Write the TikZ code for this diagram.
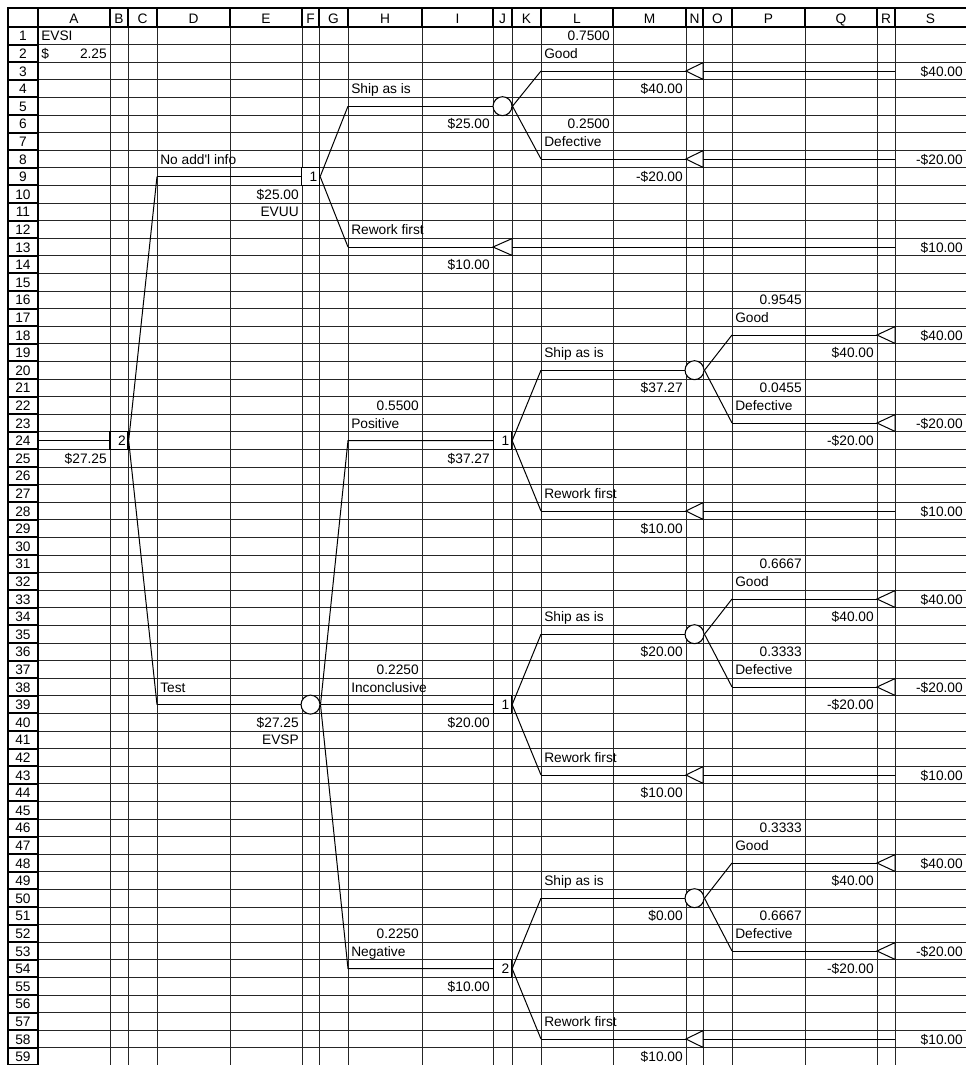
\documentclass[tikz,border=0pt]{standalone}
\usepackage{fontspec}
\setmainfont{Liberation Sans}
\usetikzlibrary{positioning}
\newcommand{\cellfont}{\fontsize{10.3}{12}\selectfont}
\pgfmathdeclarefunction{rtop}{1}{\pgfmathparse{27+(#1-1)*17.6}}
\pgfmathdeclarefunction{rmid}{1}{\pgfmathparse{27+(#1-0.5)*17.6}}
\tikzset{
  gridln/.style={line width=0.6pt, black!85},
  hdrln/.style={line width=1.5pt},
  branch/.style={line width=0.75pt},
  decbox/.style={draw, line width=1pt, fill=white, minimum height=13.2pt, text width=10pt, align=right, inner xsep=1.75pt, inner ysep=0pt, font=\cellfont},
  chance/.style={draw, circle, line width=0.8pt, fill=white, minimum size=14.2pt, inner sep=0pt},
  endtri/.style={draw, line width=0.75pt, fill=white},
  celll/.style={anchor=base west, inner sep=0pt, font=\cellfont},
  cellr/.style={anchor=base east, inner sep=0pt, font=\cellfont},
  hdrtxt/.style={anchor=base, inner sep=0pt, font=\cellfont}
}
% terminal triangle: name, tip x, row, width
\newcommand{\leaf}[4]{%
  \coordinate (#1) at (#2,{rmid(#3)});
  \coordinate (#1-base) at ({#2+#4},{rmid(#3)});
  \draw[endtri] (#1) -- ++(#4,-8.4) -- ++(0,16.8) -- cycle;}

\begin{document}
\begin{tikzpicture}[x=0.75pt, y=-0.75pt]
\useasboundingbox (0,0) rectangle (966,1065);
\clip (0,0) rectangle (966,1065);
% sheet grid
\foreach \gx in {110,128,157,230,302,319,348,422,493,512,541,613,686,703,732,805,877,895}
  \draw[gridln] (\gx,27) -- (\gx,1070);
\foreach \rw in {2,...,60}
  \draw[gridln] (38,{rtop(\rw)}) -- (966,{rtop(\rw)});
% headers
\draw[hdrln] (8,1070) -- (8,8) -- (966,8);
\draw[hdrln] (38,8) -- (38,1070);
\draw[hdrln] (8,27) -- (966,27);
\foreach \gx in {110,128,157,230,302,319,348,422,493,512,541,613,686,703,732,805,877,895}
  \draw[hdrln] (\gx,8) -- (\gx,27);
\foreach \rw in {2,...,60}
  \draw[hdrln] (8,{rtop(\rw)}) -- (38,{rtop(\rw)});
\foreach \lt/\cx in {A/74,B/119,C/142.5,D/193.5,E/266,F/310.5,G/333.5,H/385,I/457.5,J/502.5,K/526.5,L/577,M/649.5,N/694.5,O/717.5,P/768.5,Q/841,R/886,S/930.5}
  \node[hdrtxt] (col\lt) at (\cx,23) {\lt};
\foreach \rw in {1,...,59}
  \node[hdrtxt] (row\rw) at (23,{rtop(\rw+1)-3.8}) {\rw};

% cell texts
\foreach \cx/\rw/\txt [count=\k] in {41/1/EVSI, 41/2/\$, 160/8/No add\textquotesingle l info,
  351/4/Ship as is, 544/2/Good, 544/7/Defective, 351/12/Rework first, 160/38/Test,
  351/23/Positive, 544/19/Ship as is, 735/17/Good, 735/22/Defective, 544/27/Rework first,
  351/38/Inconclusive, 544/34/Ship as is, 735/32/Good, 735/37/Defective, 544/42/Rework first,
  351/53/Negative, 544/49/Ship as is, 735/47/Good, 735/52/Defective, 544/57/Rework first}
  \node[celll] (lt\k) at (\cx,{rtop(\rw+1)-3.8}) {\txt};
\foreach \cx/\rw/\txt [count=\k] in {107/2/2.25, 107/25/\$27.25, 299/10/\$25.00, 299/11/EVUU,
  299/40/\$27.25, 299/41/EVSP, 490/6/\$25.00, 490/14/\$10.00, 610/1/0.7500, 610/6/0.2500,
  683/4/\$40.00, 683/9/-\$20.00, 963/3/\$40.00, 963/8/-\$20.00, 963/13/\$10.00,
  419/22/0.5500, 490/25/\$37.27, 683/21/\$37.27, 802/16/0.9545, 802/21/0.0455,
  874/19/\$40.00, 874/24/-\$20.00, 963/18/\$40.00, 963/23/-\$20.00, 963/28/\$10.00, 683/29/\$10.00,
  419/37/0.2250, 490/40/\$20.00, 683/36/\$20.00, 802/31/0.6667, 802/36/0.3333,
  874/34/\$40.00, 874/39/-\$20.00, 963/33/\$40.00, 963/38/-\$20.00, 963/43/\$10.00, 683/44/\$10.00,
  419/52/0.2250, 490/55/\$10.00, 683/51/\$0.00, 802/46/0.3333, 802/51/0.6667,
  874/49/\$40.00, 874/54/-\$20.00, 963/48/\$40.00, 963/53/-\$20.00, 963/58/\$10.00, 683/59/\$10.00}
  \node[cellr] (rt\k) at (\cx,{rtop(\rw+1)-3.8}) {\txt};

% root decision
\coordinate (rootIn) at (38,{rmid(24)});
\node[decbox] (dRoot) at (119,{rmid(24)}) {2};
\coordinate (noInfo) at (157,{rmid(9)});
\coordinate (testIn) at (157,{rmid(39)});
\draw[branch] (rootIn) -- (dRoot.west);
\draw[branch] (dRoot.east) -- (noInfo);
\draw[branch] (dRoot.east) -- (testIn);

% no additional information
\node[decbox] (dNo) at (310.5,{rmid(9)}) {1};
\draw[branch] (noInfo) -- (dNo.west);
\coordinate (shipA) at (348,{rmid(5)});
\coordinate (rewA) at (348,{rmid(13)});
\draw[branch] (dNo.east) -- (shipA);
\draw[branch] (dNo.east) -- (rewA);
\node[chance] (cA) at (502.5,{rmid(5)}) {};
\draw[branch] (shipA) -- (cA.west);
\coordinate (goodA) at (541,{rmid(3)});
\coordinate (defA) at (541,{rmid(8)});
\draw[branch] (cA.east) -- (goodA);
\draw[branch] (cA.east) -- (defA);
\leaf{tGoodA}{686}{3}{17}
\leaf{tDefA}{686}{8}{17}
\leaf{tRewA}{493}{13}{19}
\coordinate (endGoodA) at (895,{rmid(3)});
\coordinate (endDefA) at (895,{rmid(8)});
\coordinate (endRewA) at (895,{rmid(13)});
\draw[branch] (goodA) -- (tGoodA);
\draw[branch] (tGoodA-base) -- (endGoodA);
\draw[branch] (defA) -- (tDefA);
\draw[branch] (tDefA-base) -- (endDefA);
\draw[branch] (rewA) -- (tRewA);
\draw[branch] (tRewA-base) -- (endRewA);

% test
\node[chance] (cTest) at (310.5,{rmid(39)}) {};
\draw[branch] (testIn) -- (cTest.west);
\node[decbox] (dPos) at (502.5,{rmid(24)}) {1};
\node[decbox] (dInc) at (502.5,{rmid(39)}) {1};
\node[decbox] (dNeg) at (502.5,{rmid(54)}) {2};
\coordinate (posIn) at (348,{rmid(24)});
\coordinate (incIn) at (348,{rmid(39)});
\coordinate (negIn) at (348,{rmid(54)});
\draw[branch] (cTest.east) -- (posIn) -- (dPos.west);
\draw[branch] (cTest.east) -- (incIn) -- (dInc.west);
\draw[branch] (cTest.east) -- (negIn) -- (dNeg.west);

\foreach \nm/\rr in {Pos/24,Inc/39,Neg/54}{
  \coordinate (ship\nm) at (541,{rmid(\rr-4)});
  \coordinate (rew\nm) at (541,{rmid(\rr+4)});
  \draw[branch] (d\nm.east) -- (ship\nm);
  \draw[branch] (d\nm.east) -- (rew\nm);
  \node[chance] (c\nm) at (694.5,{rmid(\rr-4)}) {};
  \draw[branch] (ship\nm) -- (c\nm.west);
  \coordinate (good\nm) at (732,{rmid(\rr-6)});
  \coordinate (def\nm) at (732,{rmid(\rr-1)});
  \draw[branch] (c\nm.east) -- (good\nm);
  \draw[branch] (c\nm.east) -- (def\nm);
  \leaf{tGood\nm}{877}{\rr-6}{18}
  \leaf{tDef\nm}{877}{\rr-1}{18}
  \draw[branch] (good\nm) -- (tGood\nm);
  \draw[branch] (def\nm) -- (tDef\nm);
  \leaf{tRew\nm}{686}{\rr+4}{17}
  \coordinate (endRew\nm) at (895,{rmid(\rr+4)});
  \draw[branch] (rew\nm) -- (tRew\nm);
  \draw[branch] (tRew\nm-base) -- (endRew\nm);
}
\end{tikzpicture}
\end{document}
